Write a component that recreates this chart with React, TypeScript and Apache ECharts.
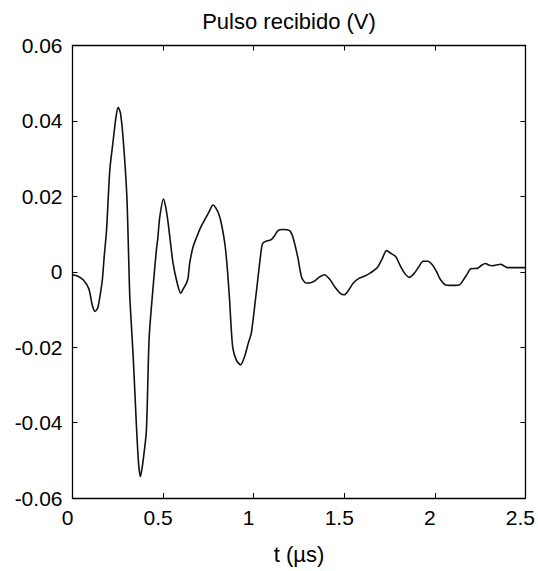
import React, { useEffect, useRef } from "react";
import * as echarts from "echarts";

const TITLE = "Pulso recibido (V)";
const X_NAME = "t (µs)";

const tValues: number[] = [
  0, 0.03, 0.06, 0.09, 0.11, 0.125, 0.14, 0.155, 0.165, 0.175, 0.188, 0.206, 0.225, 0.24, 0.252,
  0.265, 0.28, 0.3, 0.313, 0.317, 0.335, 0.353, 0.365, 0.375, 0.39, 0.408, 0.423, 0.445, 0.463,
  0.47, 0.482, 0.502, 0.515, 0.528, 0.545, 0.555, 0.574, 0.597, 0.612, 0.629, 0.638, 0.647,
  0.665, 0.684, 0.705, 0.73, 0.755, 0.775, 0.79, 0.81, 0.825, 0.843, 0.856, 0.867, 0.884, 0.905,
  0.928, 0.95, 0.97, 0.987, 1.014, 1.042, 1.051, 1.075, 1.097, 1.115, 1.134, 1.16, 1.198, 1.216,
  1.243, 1.265, 1.29, 1.315, 1.335, 1.36, 1.39, 1.42, 1.45, 1.48, 1.5, 1.52, 1.55, 1.583, 1.61,
  1.638, 1.66, 1.684, 1.71, 1.733, 1.76, 1.785, 1.81, 1.835, 1.858, 1.885, 1.91, 1.935, 1.96,
  1.987, 2.01, 2.03, 2.06, 2.1, 2.134, 2.16, 2.18, 2.198, 2.235, 2.26, 2.28, 2.3, 2.317, 2.34,
  2.363, 2.38, 2.4, 2.45, 2.5,
];

const vValues: number[] = [
  -0.0008, -0.0012, -0.0022, -0.0045, -0.009, -0.0105, -0.0095, -0.0055, -0.002, 0.004, 0.0111,
  0.027, 0.035, 0.041, 0.0436, 0.042, 0.035, 0.02, -0.0016, -0.0075, -0.0225, -0.041, -0.051,
  -0.0543, -0.05, -0.042, -0.0176, -0.004, 0.0058, 0.0085, 0.0146, 0.0193, 0.017, 0.0129, 0.006,
  0.0023, -0.0022, -0.0057, -0.0045, -0.003, -0.0016, 0.0023, 0.0065, 0.009, 0.0115, 0.0138,
  0.016, 0.0177, 0.017, 0.015, 0.012, 0.0067, 0.0, -0.0075, -0.0199, -0.0235, -0.0247, -0.0225,
  -0.019, -0.0163, -0.0057, 0.0058, 0.0076, 0.0082, 0.0085, 0.0095, 0.0109, 0.0112, 0.0109,
  0.0093, 0.004, -0.0015, -0.003, -0.0029, -0.0025, -0.0015, -0.0008, -0.002, -0.0042, -0.0058,
  -0.0061, -0.0052, -0.003, -0.0017, -0.0012, -0.0005, 0.0002, 0.0012, 0.0035, 0.0056, 0.0048,
  0.004, 0.0015, -0.0005, -0.0015, -0.0005, 0.0012, 0.0028, 0.0028, 0.0018, 0.0, -0.002,
  -0.0035, -0.0036, -0.0035, -0.002, -0.0005, 0.0008, 0.0009, 0.0018, 0.0022, 0.0017, 0.0016,
  0.0018, 0.002, 0.0016, 0.0011, 0.0011, 0.0011,
];

const X_MIN = 0;
const X_MAX = 2.5;
const X_STEP = 0.5;
const Y_MIN = -0.06;
const Y_MAX = 0.06;
const Y_STEP = 0.02;

const fmt = (v: number) => {
  const r = parseFloat(v.toFixed(3));
  if (Math.abs(r) < 1e-9) return "0";
  return String(r);
};

export default function App() {
  const ref = useRef<HTMLDivElement>(null);

  useEffect(() => {
    if (!ref.current) return;
    const chart = echarts.init(ref.current, undefined, { renderer: "svg" });
    const font = "'Liberation Sans', Arial, Helvetica, sans-serif";
    const axisLine = { show: true, onZero: false, lineStyle: { color: "#000", width: 1.3 } };
    const tick = { show: true, inside: true, length: 5, lineStyle: { color: "#000", width: 1 } };
    const data = tValues.map((t, i) => [t, vValues[i]]);

    chart.setOption({
      animation: false,
      backgroundColor: "#fff",
      title: {
        text: TITLE,
        left: 289,
        top: 10,
        textAlign: "center",
        padding: 0,
        textStyle: { fontFamily: font, fontSize: 22, fontWeight: "normal", color: "#000" },
      },
      grid: { left: 72.5, right: 11.5, top: 45.5, bottom: 73, containLabel: false },
      xAxis: [
        {
          type: "value",
          min: X_MIN,
          max: X_MAX,
          interval: X_STEP,
          position: "bottom",
          name: X_NAME,
          nameLocation: "middle",
          nameGap: 45,
          nameTextStyle: { fontFamily: font, fontSize: 22, color: "#000" },
          axisLine,
          axisTick: tick,
          splitLine: { show: false },
          axisLabel: {
            fontFamily: font,
            fontSize: 21,
            color: "#000",
            margin: 9,
            padding: [0, 10, 0, 0],
            formatter: fmt,
          },
        },
        {
          type: "value",
          min: X_MIN,
          max: X_MAX,
          interval: X_STEP,
          position: "top",
          axisLine,
          axisTick: tick,
          splitLine: { show: false },
          axisLabel: { show: false },
        },
      ],
      yAxis: [
        {
          type: "value",
          min: Y_MIN,
          max: Y_MAX,
          interval: Y_STEP,
          position: "left",
          axisLine,
          axisTick: tick,
          splitLine: { show: false },
          axisLabel: { fontFamily: font, fontSize: 21, color: "#000", margin: 10, formatter: fmt },
        },
        {
          type: "value",
          min: Y_MIN,
          max: Y_MAX,
          interval: Y_STEP,
          position: "right",
          axisLine,
          axisTick: tick,
          splitLine: { show: false },
          axisLabel: { show: false },
        },
      ],
      series: [
        {
          type: "line",
          xAxisIndex: 0,
          yAxisIndex: 0,
          data,
          showSymbol: false,
          smooth: 0.25,
          lineStyle: { color: "#111", width: 1.6 },
        },
      ],
    });

    return () => chart.dispose();
  }, []);

  return (
    <div
      ref={ref}
      style={{ position: "absolute", left: 0, top: 0, width: 538, height: 571 }}
    />
  );
}
